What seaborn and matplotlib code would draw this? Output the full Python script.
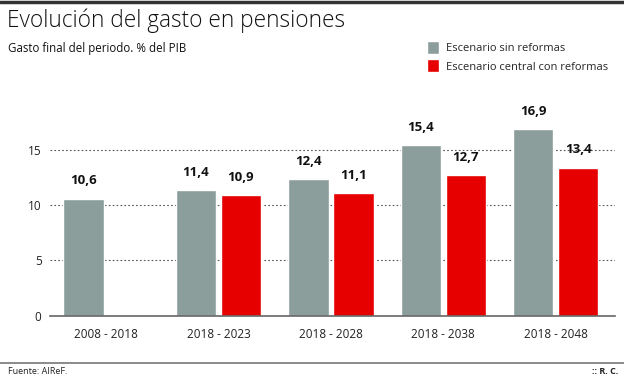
import numpy as np
import pandas as pd
import matplotlib.pyplot as plt
import seaborn as sns
from matplotlib.lines import Line2D

periodos = ['2008 - 2018', '2018 - 2023', '2018 - 2028', '2018 - 2038', '2018 - 2048']
sin_reformas = [10.6, 11.4, 12.4, 15.4, 16.9]
con_reformas = [np.nan, 10.9, 11.1, 12.7, 13.4]
escenarios = ['Escenario sin reformas', 'Escenario central con reformas']
colores = ['#8c9e9c', '#e60000']

df = pd.DataFrame({
    'periodo': periodos * 2,
    'valor': sin_reformas + con_reformas,
    'escenario': [escenarios[0]] * 5 + [escenarios[1]] * 5,
})

sns.set_style('white')
plt.rcParams['font.family'] = ['Open Sans', 'DejaVu Sans']

fig = plt.figure(figsize=(6.24, 3.85), dpi=100)
ax = fig.add_axes([0.08, 0.18, 0.906, 0.5455])
sns.barplot(data=df, x='periodo', y='valor', hue='escenario', palette=colores,
            width=0.8, gap=0.1, saturation=1, ax=ax, legend=True)

for cont in ax.containers:
    labels = ['' if np.isnan(b.get_height()) else f'{b.get_height():.1f}'.replace('.', ',')
              for b in cont]
    ax.bar_label(cont, labels=labels, padding=8, fontsize=9.5, fontweight='bold', color='#111111')

ax.set_xlim(-0.5, 4.53)
ax.set_ylim(0, 19)
ax.set_yticks([0, 5, 10, 15])
ax.set_xlabel('')
ax.set_ylabel('')
ax.tick_params(axis='both', length=0, labelsize=8.5, colors='#222222')
ax.tick_params(axis='x', pad=9)
ax.tick_params(axis='y', pad=6)
ax.yaxis.grid(True, linestyle=(0, (1.5, 2)), color='#555555', linewidth=0.8)
ax.set_axisbelow(True)
for s in ['top', 'right', 'left']:
    ax.spines[s].set_visible(False)
ax.spines['bottom'].set_color('#666666')
ax.spines['bottom'].set_linewidth(1.2)

handles, labs = ax.get_legend_handles_labels()
ax.legend(handles, labs, loc='upper left', bbox_to_anchor=(0.668, 0.92),
          bbox_transform=fig.transFigure, frameon=False, fontsize=8,
          handlelength=1.1, handleheight=1.4, handletextpad=0.6, labelspacing=0.5)

fig.text(0.012, 0.945, 'Evolución del gasto en pensiones', fontsize=16.3,
         fontweight='light', color='#111111', va='center')
fig.text(0.013, 0.875, 'Gasto final del periodo. % del PIB', fontsize=8.3,
         color='#111111', va='center')
fig.add_artist(Line2D([0, 1], [0.996, 0.996], color='#333333', linewidth=2.5))
fig.add_artist(Line2D([0, 1], [0.058, 0.058], color='#777777', linewidth=1.2))
fig.text(0.013, 0.034, 'Fuente: AIReF.', fontsize=6.5, color='#222222', va='center')
fig.text(0.99, 0.034, ':: R. C.', fontsize=6.5, fontweight='bold', color='#222222',
         va='center', ha='right')

fig.savefig('out.png', dpi=100)
